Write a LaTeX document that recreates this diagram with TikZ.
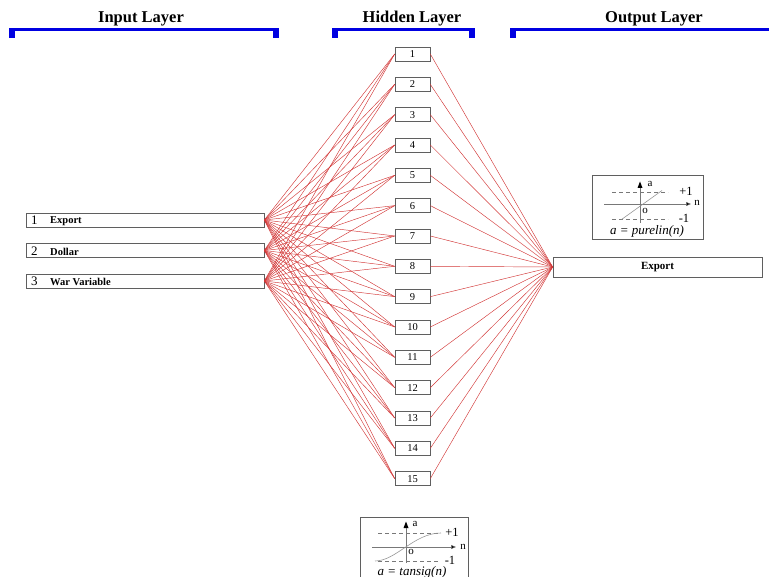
\documentclass[tikz,border=0pt]{standalone}
\usepackage{fontspec}
\setmainfont{Liberation Serif}
\usetikzlibrary{arrows.meta}
\definecolor{bracketblue}{RGB}{0,0,225}
\definecolor{linkred}{RGB}{210,55,55}
\definecolor{boxgray}{RGB}{95,95,95}
\definecolor{axisgray}{RGB}{120,120,120}
\definecolor{curvegray}{RGB}{150,150,150}
\begin{document}
\begin{tikzpicture}[x=1pt,y=-1pt,
  title/.style={font=\fontsize{16.5}{18}\selectfont\bfseries, inner sep=0pt},
  inbox/.style={draw=boxgray, line width=0.6pt, minimum width=238pt, minimum height=14pt, inner sep=0pt},
  hidbox/.style={draw=boxgray, line width=0.6pt, minimum width=35pt, minimum height=14pt, inner sep=0pt, font=\fontsize{10.5}{12}\selectfont},
  outbox/.style={draw=boxgray, line width=0.6pt, minimum width=209pt, minimum height=20pt, inner sep=0pt, font=\fontsize{11}{12}\selectfont\bfseries},
  fnbox/.style={draw=boxgray, line width=0.6pt, inner sep=0pt},
  innum/.style={font=\fontsize{13}{14}\selectfont, inner sep=0pt, anchor=west},
  inlab/.style={font=\fontsize{10.5}{12}\selectfont\bfseries, inner sep=0pt, anchor=west},
  link/.style={draw=linkred, line width=0.45pt},
  bluebar/.style={fill=bracketblue, draw=none},
  axis/.style={draw=axisgray, line width=0.5pt},
  curve/.style={draw=curvegray, line width=0.6pt},
  axisarrow/.style={draw=axisgray, line width=0.5pt, -{Triangle[length=5pt,width=4pt,fill=black]}},
  limit/.style={draw=axisgray, line width=0.5pt, dash pattern=on 4pt off 3pt},
  fnlab/.style={font=\fontsize{12.5}{14}\selectfont, inner sep=0pt},
  fnsmall/.style={font=\fontsize{11}{12}\selectfont, inner sep=0pt},
  fnname/.style={font=\fontsize{13}{14}\selectfont\itshape, inner sep=0pt}
]
\useasboundingbox (0,0) rectangle (769,577);

% titles
\node[title] (tin) at (141,19) {Input Layer};
\node[title] (thid) at (412,18.5) {Hidden Layer};
\node[title] (tout) at (654,18.5) {Output Layer};

% blue brackets
\fill[bluebar] (9,28.5) rectangle (279,31);
\fill[bluebar] (9,28.5) rectangle (15,38);
\fill[bluebar] (273,28.5) rectangle (279,38);
\fill[bluebar] (332,28.5) rectangle (475,31);
\fill[bluebar] (332,28.5) rectangle (338,38);
\fill[bluebar] (469,28.5) rectangle (475,38);
\fill[bluebar] (510,28.5) rectangle (769,31);
\fill[bluebar] (510,28.5) rectangle (516,38);

% input boxes
\node[inbox] (in1) at (145,220) {};
\node[inbox] (in2) at (145,250.5) {};
\node[inbox] (in3) at (145,281) {};
\node[innum] (n1) at (31,220.5) {1};
\node[inlab] (l1) at (50,221) {Export};
\node[innum] (n2) at (31,251) {2};
\node[inlab] (l2) at (50,251.5) {Dollar};
\node[innum] (n3) at (31,281.5) {3};
\node[inlab] (l3) at (50,282) {War Variable};

% hidden boxes
\foreach \i in {1,...,15} {
  \node[hidbox] (h\i) at (412.5,{54+30.33*(\i-1)}) {\i};
}

% output box
\node[outbox] (out) at (657.5,267) {Export};

% links
\foreach \i in {1,...,15} {
  \foreach \j in {1,2,3} {
    \draw[link] (in\j.east) -- (h\i.west);
  }
  \draw[link] (h\i.east) -- (out.west);
}

% purelin box
\node[fnbox, minimum width=111pt, minimum height=64pt] (pbox) at (647.5,207) {};
\draw[limit] (612,192) -- (668,192);
\draw[limit] (612,219) -- (668,219);
\draw[axis] (640,223) -- (640,190);
\fill[black] (640,181.5) -- (637.5,188) -- (642.5,188) -- cycle;
\draw[axis] (640,188) -- (640,190);
\draw[axisarrow] (604,204) -- (691,204);
\draw[curve] (621.5,219.5) -- (662,190.5);
\node[fnsmall] (pa) at (650,184) {a};
\node[fnlab] (pp1) at (686,191) {+1};
\node[fnsmall] (pn) at (697,203) {n};
\node[fnsmall] (po) at (645,211) {o};
\node[fnlab] (pm1) at (684,218) {-1};
\node[fnname] (pname) at (647,231.5) {a = purelin(n)};

% tansig box
\node[fnbox, minimum width=108pt, minimum height=70pt] (tbox) at (414,552) {};
\draw[limit] (378,533) -- (440,533);
\draw[limit] (378,561) -- (440,561);
\draw[axis] (406,563) -- (406,530);
\fill[black] (406,521.5) -- (403.5,528) -- (408.5,528) -- cycle;
\draw[axis] (406,528) -- (406,530);
\draw[axisarrow] (372,547) -- (456,547);
\draw[curve] (375,561) .. controls (396,561) and (414,533) .. (441,533);
\node[fnsmall] (ta) at (415,524) {a};
\node[fnlab] (tp1) at (452,532) {+1};
\node[fnsmall] (tn) at (463,547) {n};
\node[fnsmall] (to) at (411,552) {o};
\node[fnlab] (tm1) at (450,560) {-1};
\node[fnname] (tname) at (412,572.5) {a = tansig(n)};
\end{tikzpicture}
\end{document}
